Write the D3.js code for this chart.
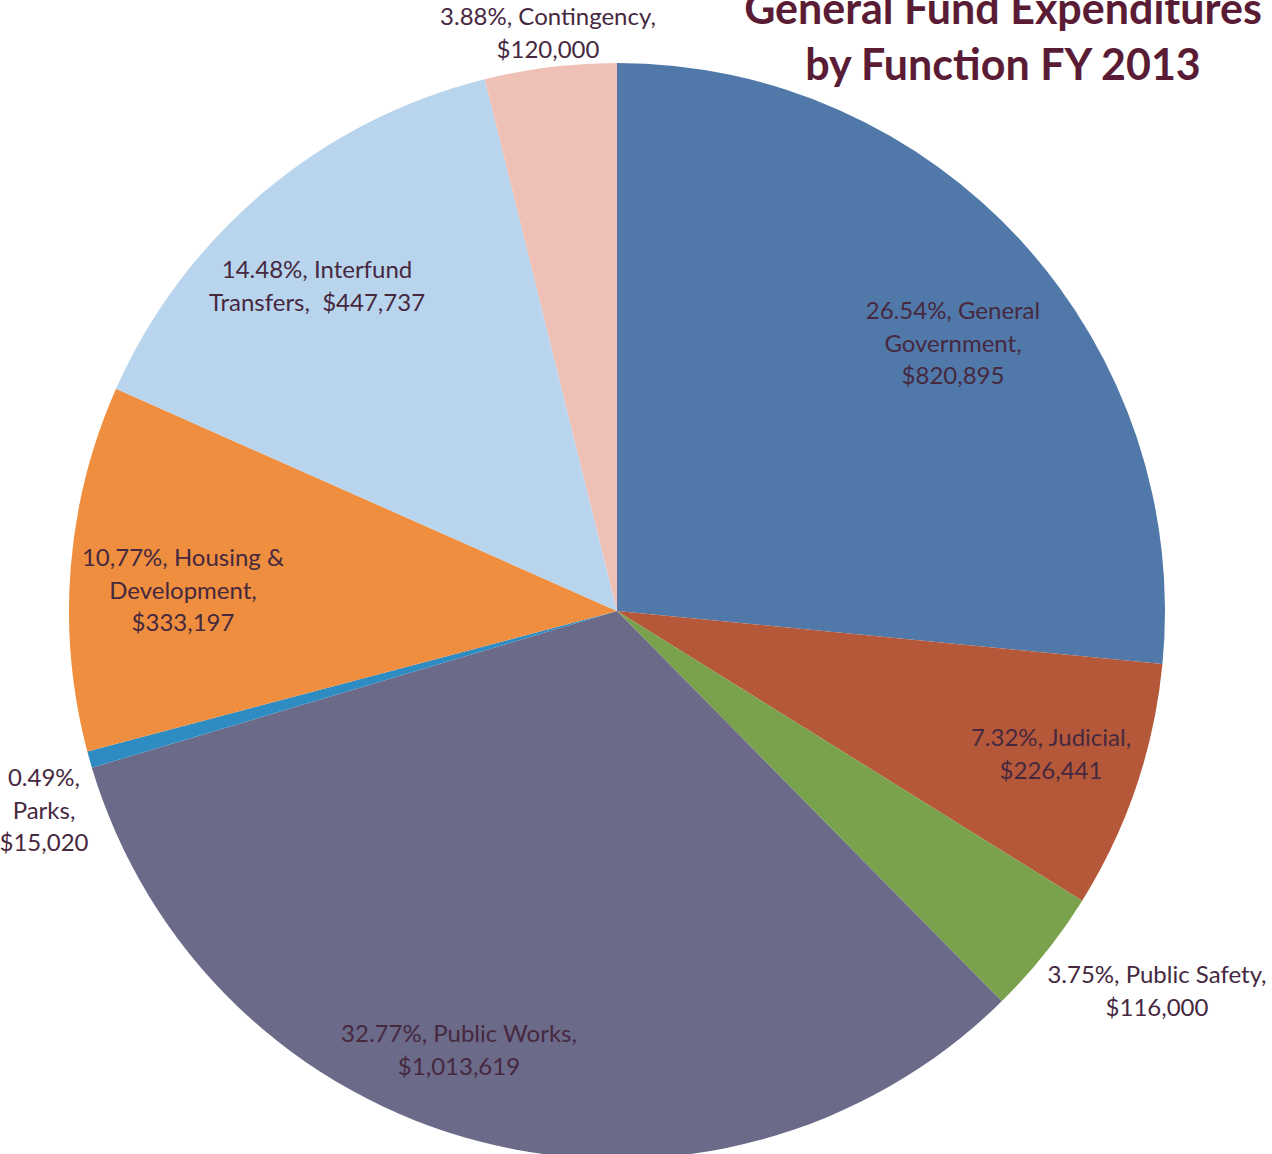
<!DOCTYPE html>
<html><head><meta charset="utf-8">
<script src="https://cdn.jsdelivr.net/npm/d3@7"></script>
<style>html,body{margin:0;padding:0;background:#fff;overflow:hidden}</style>
</head><body>
<svg id="chart" width="1272" height="1154"></svg>
<script>
const categories = ["General Government","Judicial","Public Safety","Public Works","Parks","Housing & Development","Interfund Transfers","Contingency"];
const values = [820895, 226441, 116000, 1013619, 15020, 333197, 447737, 120000];
const colors = ["#5079aa","#b5583a","#7aa24c","#6b6a89","#2e8cc2","#ef8e3e","#b9d5ee","#efc0b6"];
const labelLines = [
  ["26.54%, General","Government,","$820,895"],
  ["7.32%, Judicial,","$226,441"],
  ["3.75%, Public Safety,","$116,000"],
  ["32.77%, Public Works,","$1,013,619"],
  ["0.49%,","Parks,","$15,020"],
  ["10,77%, Housing &","Development,","$333,197"],
  ["14.48%, Interfund","Transfers,  $447,737"],
  ["3.88%, Contingency,","$120,000"]
];
const labelPos = [[953,311],[1051,738],[1157,975],[459,1034],[44,778],[183,558],[317,270],[548,17]];
const titleLines = ["General Fund Expenditures","by Function FY 2013"];

const svg = d3.select("#chart");
const cx = 617, cy = 611, r = 548;
const pie = d3.pie().sort(null).value(d => d)(values);
const arc = d3.arc().innerRadius(0).outerRadius(r);
const g = svg.append("g").attr("transform", `translate(${cx},${cy})`);
g.selectAll("path").data(pie).join("path")
  .attr("d", arc).attr("fill", (d,i) => colors[i]);

const font = "Lato, 'Open Sans', sans-serif";
const lh = 32.5;
labelLines.forEach((lines, i) => {
  const t = svg.append("text").attr("text-anchor","middle")
    .attr("font-family", font).attr("font-size", 24).attr("fill","#46283f");
  lines.forEach((s, j) => {
    t.append("tspan").attr("x", labelPos[i][0]).attr("y", labelPos[i][1] + j*lh)
      .attr("dy","0.35em").attr("xml:space","preserve").style("white-space","pre").text(s);
  });
});

const tt = svg.append("text").attr("text-anchor","middle")
  .attr("font-family", font).attr("font-size", 43).attr("font-weight","bold").attr("fill","#5a1c34");
titleLines.forEach((s, j) => {
  tt.append("tspan").attr("x", 1003).attr("y", 24 + j*56).text(s);
});
</script>
</body></html>
